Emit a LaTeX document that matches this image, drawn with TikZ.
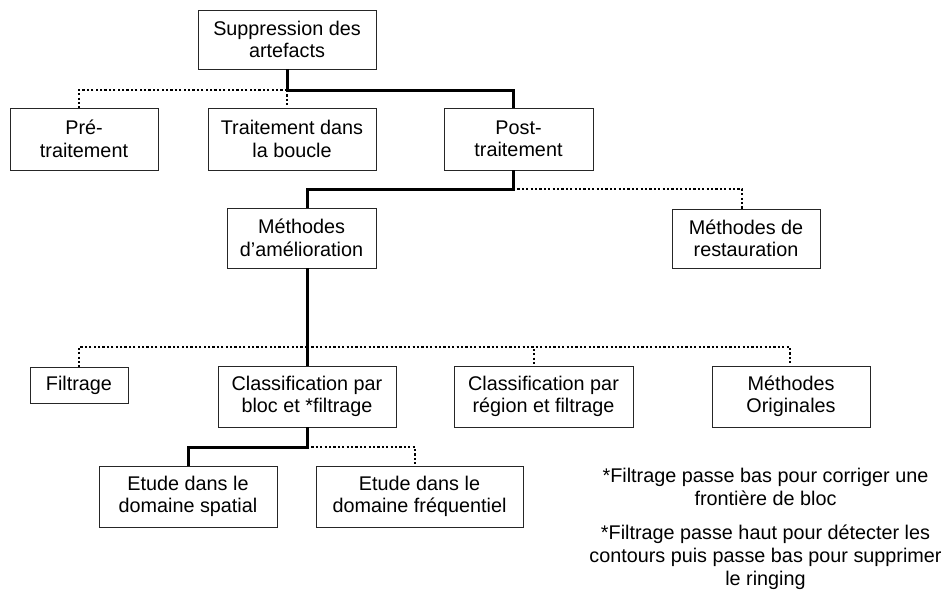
\documentclass[tikz,border=0pt]{standalone}
\usepackage{fontspec}
\setmainfont{Liberation Sans}
\begin{document}
\begin{tikzpicture}[x=1pt,y=-1pt,
  box/.style={draw=black!85, line width=0.9pt, fill=white, inner sep=0pt, align=center, font=\fontsize{19.8}{22.5}\selectfont},
  solidline/.style={line width=3pt},
  dotline/.style={line width=2.8pt, dash pattern=on 2.2pt off 2.2pt},
  note/.style={align=center, font=\fontsize{19.8}{23}\selectfont, inner sep=0pt}]
\useasboundingbox[fill=white] (0,0) rectangle (944,595);

\node[box, minimum width=178pt, minimum height=59pt] (S) at (287,39.5) {Suppression des\\artefacts};
\node[box, minimum width=148pt, minimum height=62pt] (Pre) at (84,139) {Pré-\\traitement};
\node[box, minimum width=168pt, minimum height=62pt] (Trait) at (292,139) {Traitement dans\\la boucle};
\node[box, minimum width=149pt, minimum height=62pt] (Post) at (518.5,139) {Post-\\traitement};
\node[box, minimum width=149pt, minimum height=60pt] (Amel) at (301.5,238) {Méthodes\\d’amélioration};
\node[box, minimum width=148pt, minimum height=59pt] (Rest) at (746,238.5) {Méthodes de\\restauration};
\node[box, minimum width=98pt, minimum height=36pt] (Filt) at (79,385) {Filtrage};
\node[box, minimum width=178pt, minimum height=61pt] (CBloc) at (307,396.5) {Classification par\\bloc et *filtrage};
\node[box, minimum width=179pt, minimum height=61pt] (CReg) at (543.5,396.5) {Classification par\\région et filtrage};
\node[box, minimum width=158pt, minimum height=61pt] (Orig) at (791,396.5) {Méthodes\\Originales};
\node[box, minimum width=178pt, minimum height=61pt] (Spat) at (188,496.5) {Etude dans le\\domaine spatial};
\node[box, minimum width=207pt, minimum height=61pt] (Freq) at (419.5,496.5) {Etude dans le\\domaine fréquentiel};

\coordinate (j1) at (287,90);
\coordinate (j2) at (513,189);
\coordinate (j3) at (307,347);
\coordinate (j4) at (307,447);

\draw[dotline] (j1) -| ([xshift=-5pt]Pre.north);
\draw[dotline] (j1) -- ([xshift=-5pt]Trait.north);
\draw[solidline] (S.south) -- (j1) -| ([xshift=-5.5pt]Post.north);

\draw[dotline] (j2) -| ([xshift=-4pt]Rest.north);
\draw[solidline] ([xshift=-5.5pt]Post.south) -- (j2) -| ([xshift=5.5pt]Amel.north);

\draw[dotline] (j3) -| (Filt.north);
\draw[dotline] (j3) -| ([xshift=-9.5pt]CReg.north);
\draw[dotline] (j3) -| ([xshift=-1pt]Orig.north);
\draw[solidline] ([xshift=5.5pt]Amel.south) -- (CBloc.north);

\draw[dotline] (j4) -| ([xshift=-4.5pt]Freq.north);
\draw[solidline] (CBloc.south) -- (j4) -| (Spat.north);

\node[note, anchor=base] (n1) at (765.5,505) {*Filtrage passe bas pour corriger une\\frontière de bloc};
\node[note, anchor=base] (n2) at (765.5,585) {*Filtrage passe haut pour détecter les\\contours puis passe bas pour supprimer\\le ringing};
\end{tikzpicture}
\end{document}
